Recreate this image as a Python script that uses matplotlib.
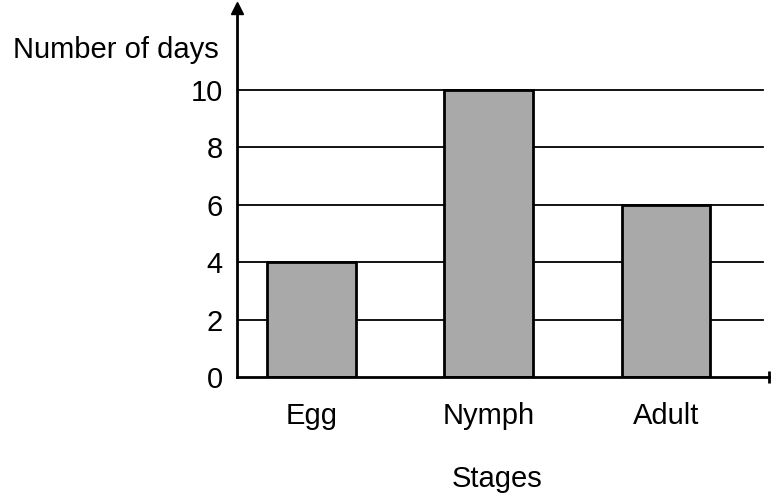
import matplotlib.pyplot as plt

# datos de la grafica
stages = ["Egg", "Nymph", "Adult"]
days = [4, 10, 6]
yticks = [0, 2, 4, 6, 8, 10]

plt.rcParams['font.family'] = ['Liberation Sans', 'DejaVu Sans']

fig = plt.figure(figsize=(7.71, 4.95), dpi=100)
ax = fig.add_axes([0.307, 0.2384, 0.69, 0.7456])

x = range(len(stages))
ax.set_xlim(-0.42, 2.58)
ax.set_ylim(0, 12.86)

# lineas horizontales detras de las barras
for t in yticks[1:]:
    ax.axhline(t, xmin=0, xmax=0.99, color="black", lw=1.3, zorder=1)

ax.bar(x, days, width=0.5, color="#a9a9a9", edgecolor="black", lw=2, zorder=2)

ax.set_xticks(list(x))
ax.set_xticklabels(stages, fontsize=21)
ax.set_yticks(yticks)
ax.set_yticklabels([str(t) for t in yticks], fontsize=21)
ax.tick_params(axis="both", length=0)
ax.tick_params(axis="y", pad=10)
ax.tick_params(axis="x", pad=18)

for s in ["top", "right"]:
    ax.spines[s].set_visible(False)
ax.spines["left"].set_linewidth(2)
ax.spines["bottom"].set_linewidth(2)

# flechas de los ejes
ax.plot([0], [1], marker="^", color="black", markersize=8,
        transform=ax.transAxes, clip_on=False)
ax.plot([1], [0], marker="|", color="black", markersize=8, mew=2,
        transform=ax.transAxes, clip_on=False)

fig.text(0.017, 0.883, "Number of days", fontsize=21, ha="left", va="baseline")
fig.text(0.645, 0.016, "Stages", fontsize=21, ha="center", va="baseline")

plt.savefig("out.png", dpi=100)
